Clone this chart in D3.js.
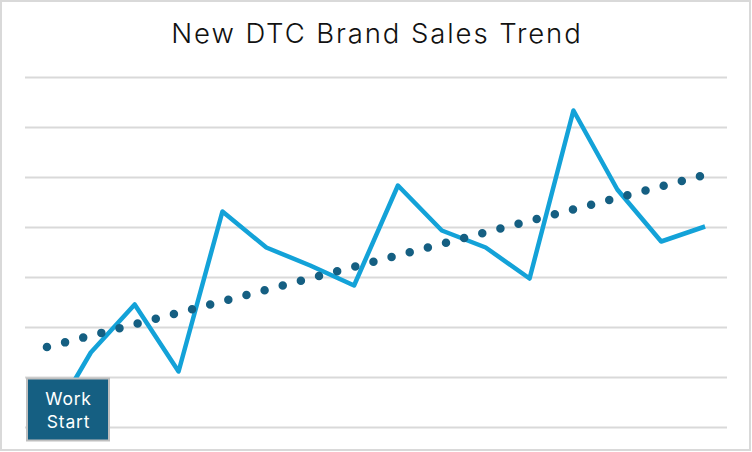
<!DOCTYPE html>
<html>
<head>
<meta charset="utf-8">
<script src="https://cdn.jsdelivr.net/npm/d3@7"></script>
<style>
  html, body { margin: 0; padding: 0; background: #fff; }
  svg { display: block; }
</style>
</head>
<body>
<svg id="chart" width="752" height="452"></svg>
<script>
const title = "New DTC Brand Sales Trend";
const periods = d3.range(1, 17).map(String);
const sales = [0, 1.5, 2.46, 1.12, 4.32, 3.6, 3.24, 2.84, 4.84, 3.94, 3.6, 2.98, 6.34, 4.76, 3.72, 4.02];
const yTicks = [0, 1, 2, 3, 4, 5, 6, 7];
const annotationLines = ["Work", "Start"];

const W = 752, H = 452;
const svg = d3.select("#chart");

// outer border
svg.append("rect").attr("x", 1).attr("y", 1).attr("width", W - 3).attr("height", H - 3)
  .attr("fill", "#fff").attr("stroke", "#d9d9d9").attr("stroke-width", 2);

const plot = { left: 25, right: 727, top: 77.5, bottom: 427.5 };

const x = d3.scaleBand().domain(periods).range([plot.left, plot.right]);
const y = d3.scaleLinear().domain([0, 7]).range([plot.bottom, plot.top]);
const cx = d => x(d) + x.bandwidth() / 2;

// gridlines
svg.append("g").selectAll("line").data(yTicks).join("line")
  .attr("x1", plot.left).attr("x2", plot.right)
  .attr("y1", d => y(d)).attr("y2", d => y(d))
  .attr("stroke", "#d9d9d9").attr("stroke-width", 2);

// title
svg.append("text").attr("x", 377).attr("y", 43).attr("text-anchor", "middle")
  .attr("font-family", "Inter, 'Open Sans', sans-serif").attr("font-weight", 300)
  .attr("font-size", 27.5).attr("letter-spacing", 1.9).attr("fill", "#111").text(title);

// sales line
const line = d3.line().x((d, i) => cx(periods[i])).y(d => y(d));
svg.append("path").datum(sales).attr("d", line)
  .attr("fill", "none").attr("stroke", "#13a2d8").attr("stroke-width", 4.5)
  .attr("stroke-linejoin", "round");

// linear trend (least squares)
const n = sales.length;
const xs = d3.range(n);
const mx = d3.mean(xs), my = d3.mean(sales);
const slope = d3.sum(xs, i => (i - mx) * (sales[i] - my)) / d3.sum(xs, i => (i - mx) ** 2);
const intercept = my - slope * mx;
const trend = xs.map(i => intercept + slope * i);
svg.append("path").datum(trend).attr("d", line)
  .attr("fill", "none").attr("stroke", "#155f82").attr("stroke-width", 8.5)
  .attr("stroke-linecap", "round").attr("stroke-dasharray", "0 18.75");

// annotation box
const box = svg.append("g");
box.append("rect").attr("x", 27).attr("y", 378.5).attr("width", 82).attr("height", 62)
  .attr("fill", "#155f82").attr("stroke", "#bfbfbf").attr("stroke-width", 2);
box.selectAll("text").data(annotationLines).join("text")
  .attr("x", 68.5).attr("y", (d, i) => 405 + i * 23).attr("text-anchor", "middle")
  .attr("font-family", "Inter, 'Open Sans', sans-serif").attr("font-weight", 400)
  .attr("font-size", 17.5).attr("letter-spacing", 0.8).attr("fill", "#fff").text(d => d);
</script>
</body>
</html>
